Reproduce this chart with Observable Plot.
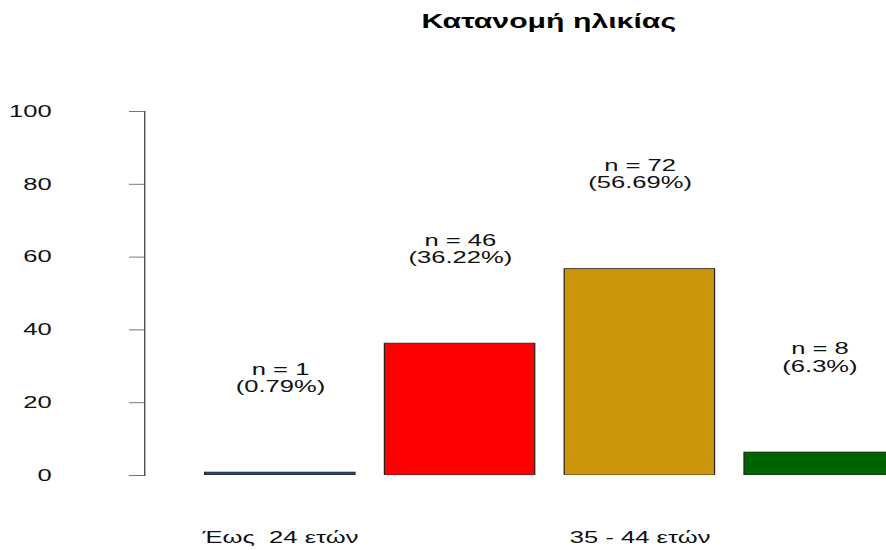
<!DOCTYPE html>
<html><head><meta charset="utf-8">
<script src="https://cdn.jsdelivr.net/npm/d3@7"></script>
<script src="https://cdn.jsdelivr.net/npm/@observablehq/plot@0.6"></script>
<style>body{margin:0;background:#fff;overflow:hidden}</style>
</head><body><div id="chart"></div>
<script>
const categories = ["Έως  24 ετών", "25 - 34 ετών", "35 - 44 ετών", "45+ ετών"];
const tickLabels = ["Έως  24 ετών", "", "35 - 44 ετών", ""];
const counts = [1, 46, 72, 8];
const percents = [0.79, 36.22, 56.69, 6.3];
const colors = ["#27408B", "#FF0000", "#CD950C", "#006400"];
const yTicks = [0, 20, 40, 60, 80, 100];
const title = "Κατανομή ηλικίας";

const data = categories.map((c, i) => ({
  cat: c, pct: percents[i], n: counts[i], color: colors[i],
  label: `n = ${counts[i]}\n(${percents[i]}%)`
}));

// The reference image is a horizontally stretched render; draw narrow, then stretch.
const W = 886, H = 550, S = 1.55;
const w = W / S;

const chart = Plot.plot({
  width: w, height: H,
  marginTop: 111, marginBottom: 75, marginLeft: 144 / S, marginRight: 0,
  style: {fontFamily: "'Liberation Sans', Arial, sans-serif", color: "#111", background: "#fff"},
  x: {type: "band", domain: categories, range: [173 / S, 926 / S], paddingInner: 1/6, paddingOuter: 1/6, axis: null},
  y: {domain: [0, 100], axis: null},
  color: {type: "identity"},
  marks: [
    Plot.barY(data, {x: "cat", y: "pct", fill: "color", stroke: "#222", strokeWidth: 0.8, clip: true}),
    Plot.text(data, {x: "cat", y: "pct", text: "label", dy: -95, lineAnchor: "middle", fontSize: 16.5, lineHeight: 1.05, fill: "#111"}),
    Plot.frame({anchor: "left", stroke: "#333", strokeWidth: 0.8}),
    Plot.axisY(yTicks, {tickSize: 15 / S, tickPadding: 78 / S, fontSize: 16.5, stroke: "#777", strokeWidth: 1, label: null, tickFormat: d => String(d)}),
    Plot.axisX({tickSize: 0, tickPadding: 56, fontSize: 16.5, label: null, tickFormat: d => tickLabels[categories.indexOf(d)]}),
    Plot.text([title], {frameAnchor: "top", dy: -90, dx: 33 / S, lineAnchor: "middle", fontWeight: "bold", fontSize: 19.5, fill: "#000"})
  ]
});
chart.setAttribute("viewBox", `0 0 ${w} ${H}`);
chart.setAttribute("width", W);
chart.setAttribute("height", H);
chart.setAttribute("preserveAspectRatio", "none");
chart.style.width = W + "px";
chart.style.height = H + "px";
chart.style.maxWidth = "none";
document.getElementById("chart").appendChild(chart);
</script>
</body></html>
